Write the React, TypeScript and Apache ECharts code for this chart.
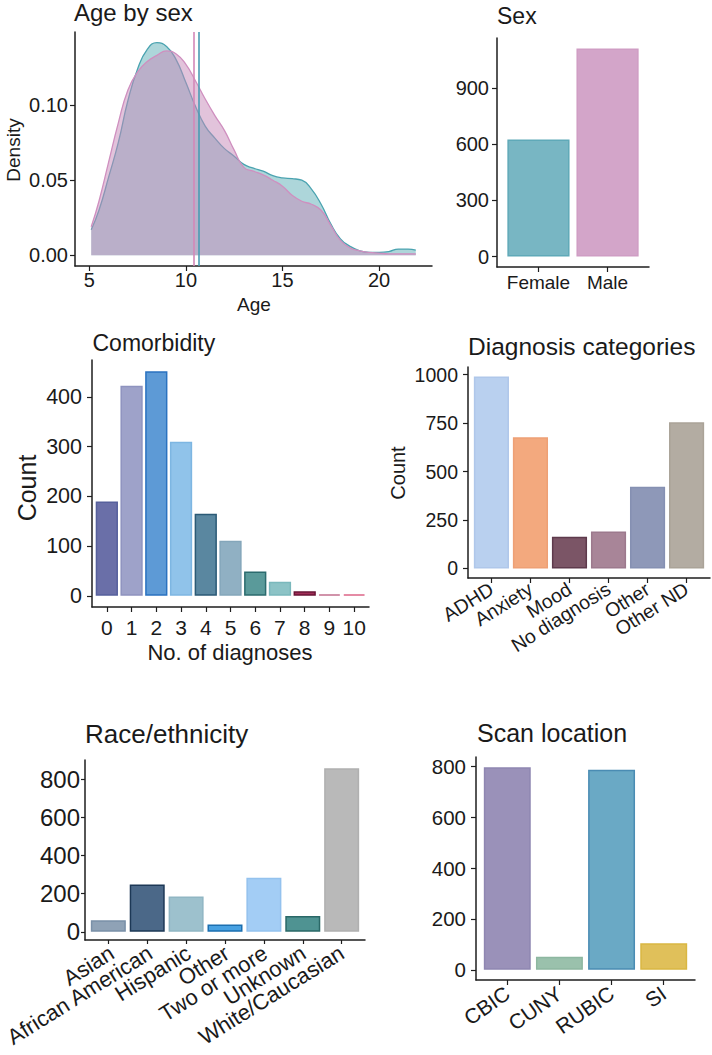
import React, { useEffect, useRef } from "react";
import * as echarts from "echarts";

const FONT = '"Liberation Sans", Arial, Helvetica, sans-serif';
const INK = "#1a1a1a";
const AXIS = "#1e1e1e";

// ---- Age by sex (density) ----
const ages = [5.1, 5.5, 6, 6.5, 7, 7.5, 8, 8.5, 9, 9.5, 10, 10.5, 11, 11.5, 12, 12.5, 13, 13.5, 14, 14.5, 15, 15.5, 16, 16.5, 17, 17.5, 18, 18.5, 19, 19.5, 20, 20.5, 21, 21.5, 21.9];
const femaleDensity = [0.017, 0.030, 0.052, 0.075, 0.103, 0.124, 0.137, 0.1415, 0.139, 0.130, 0.115, 0.099, 0.086, 0.078, 0.071, 0.066, 0.0605, 0.058, 0.056, 0.053, 0.0515, 0.051, 0.050, 0.044, 0.034, 0.021, 0.011, 0.006, 0.003, 0.002, 0.002, 0.0025, 0.0042, 0.0042, 0.0035];
const maleDensity = [0.019, 0.036, 0.062, 0.088, 0.110, 0.122, 0.129, 0.133, 0.136, 0.134, 0.127, 0.116, 0.104, 0.093, 0.083, 0.070, 0.0585, 0.056, 0.0535, 0.050, 0.046, 0.040, 0.036, 0.034, 0.030, 0.020, 0.010, 0.005, 0.003, 0.002, 0.0015, 0.001, 0.001, 0.001, 0.001];
const femaleMeanAge = 10.66;
const maleMeanAge = 10.42;
const ageTicks = [5, 10, 15, 20];
const densityTicks = [0, 0.05, 0.1];

// ---- Sex ----
const sexCategories = ["Female", "Male"];
const sexCounts = [626, 1112];
const sexTicks = [0, 300, 600, 900];
const sexFill = ["#78b6c3", "#d3a5c9"];
const sexBorder = ["#5fa9b8", "#cf9dc4"];

// ---- Comorbidity ----
const comorbidityCategories = ["0", "1", "2", "3", "4", "5", "6", "7", "8", "9", "10"];
const comorbidityCounts = [190, 423, 452, 310, 165, 111, 49, 28, 9, 3, 3];
const comorbidityTicks = [0, 100, 200, 300, 400];
const comorbidityFill = ["#6a6fa8", "#9ea2c9", "#5d9ad6", "#90c3ea", "#5a87a0", "#90b0c3", "#5a9a9a", "#8cc3c6", "#a02d57", "#c77c98", "#e0708e"];
const comorbidityBorder = ["#56609c", "#8e93bf", "#2a72c0", "#7db6e2", "#2b5a76", "#84a6ba", "#2b6b6e", "#7ab8bc", "#6a1436", "#c2708e", "#dd6688"];

// ---- Diagnosis categories ----
const diagnosisCategories = ["ADHD", "Anxiety", "Mood", "No diagnosis", "Other", "Other ND"];
const diagnosisCounts = [990, 677, 164, 190, 422, 754];
const diagnosisTicks = [0, 250, 500, 750, 1000];
const diagnosisFill = ["#b9d0ef", "#f3a97e", "#7b5566", "#a88598", "#8e98b8", "#b3aca2"];
const diagnosisBorder = ["#afc7ea", "#eea075", "#5e3a4c", "#9c798d", "#8590b2", "#aaa398"];

// ---- Race/ethnicity ----
const raceCategories = ["Asian", "African American", "Hispanic", "Other", "Two or more", "Unknown", "White/Caucasian"];
const raceCounts = [61, 248, 185, 38, 283, 83, 857];
const raceTicks = [0, 200, 400, 600, 800];
const raceFill = ["#8fa2b6", "#4b6888", "#9dc1cd", "#47a1e2", "#a3cdf5", "#4f9392", "#b9b9b9"];
const raceBorder = ["#7a90a8", "#1d3856", "#90b6c3", "#1b6fb0", "#94c2ee", "#2a6867", "#b0b0b0"];

// ---- Scan location ----
const scanCategories = ["CBIC", "CUNY", "RUBIC", "SI"];
const scanCounts = [797, 52, 787, 105];
const scanTicks = [0, 200, 400, 600, 800];
const scanFill = ["#9a91b9", "#9ac1ac", "#6aa9c5", "#e0c05a"];
const scanBorder = ["#8f86b1", "#8db7a0", "#4a8cb3", "#d9b743"];

type Box = { left: number; top: number; width: number; height: number };

function axisLine() {
  return { show: true, onZero: false, lineStyle: { color: AXIS, width: 1.5 } };
}

function buildOption() {
  const grid: any[] = [];
  const xAxis: any[] = [];
  const yAxis: any[] = [];
  const series: any[] = [];
  const graphic: any[] = [];
  const labelGrids: { box: Box; axis: any }[] = [];

  const yAxisCfg = (i: number, min: number, max: number, ticks: number[], fs: number, margin: number, tickLen: number, fmt?: (v: number) => string) => ({
    type: "value",
    gridIndex: i,
    min,
    max,
    axisLine: axisLine(),
    axisTick: { show: true, customValues: ticks, length: tickLen, lineStyle: { color: AXIS, width: 1.2 } },
    axisLabel: {
      show: true,
      customValues: ticks,
      formatter: fmt || ((v: number) => String(Math.round(v))),
      color: INK,
      fontSize: fs,
      fontFamily: FONT,
      margin,
      showMinLabel: true,
      showMaxLabel: true,
    },
    splitLine: { show: false },
  });

  // Density panel
  {
    const box: Box = { left: 75, top: 32, width: 357, height: 234 };
    grid.push({ ...box });
    const xMinD = Math.min(...ages);
    const xMaxD = Math.max(...ages);
    const xr = xMaxD - xMinD;
    const dMax = Math.max(...femaleDensity, ...maleDensity);
    xAxis.push({
      type: "value",
      gridIndex: 0,
      min: xMinD - 0.05 * xr,
      max: xMaxD + 0.05 * xr,
      axisLine: axisLine(),
      axisTick: { show: true, customValues: ageTicks, length: 5, lineStyle: { color: AXIS, width: 1.2 } },
      axisLabel: { show: true, customValues: ageTicks, color: INK, fontSize: 20, fontFamily: FONT, margin: 4, showMinLabel: true, showMaxLabel: true },
      splitLine: { show: false },
    });
    yAxis.push(yAxisCfg(0, -0.05 * dMax, 1.05 * dMax, densityTicks, 20, 7, 5, (v: number) => v.toFixed(2)));
    const mk = (val: number, color: string) => ({
      silent: true,
      symbol: ["none", "none"],
      label: { show: false },
      lineStyle: { color, type: "solid", width: 1.6 },
      data: [{ xAxis: val }],
      animation: false,
    });
    series.push({
      type: "line",
      name: "Female",
      xAxisIndex: 0,
      yAxisIndex: 0,
      data: ages.map((a, k) => [a, femaleDensity[k]]),
      smooth: 0.5,
      symbol: "none",
      lineStyle: { color: "#4aa3b0", width: 1.3 },
      areaStyle: { color: "rgba(95,174,182,0.73)", origin: "auto" },
      markLine: mk(femaleMeanAge, "#4b9bb3"),
      z: 2,
    });
    series.push({
      type: "line",
      name: "Male",
      xAxisIndex: 0,
      yAxisIndex: 0,
      data: ages.map((a, k) => [a, maleDensity[k]]),
      smooth: 0.5,
      symbol: "none",
      lineStyle: { color: "#cf8fbf", width: 1.3 },
      areaStyle: { color: "rgba(199,138,185,0.73)", origin: "auto" },
      markLine: mk(maleMeanAge, "#d488b8"),
      z: 3,
    });
  }

  const barPanel = (
    box: Box,
    cats: string[],
    values: number[],
    fills: string[],
    borders: string[],
    ticks: number[],
    o: { yfs: number; xfs: number; ymargin: number; xmargin: number; rotate: number; tickLen: number }
  ) => {
    const i = grid.length;
    grid.push({ ...box });
    const n = cats.length;
    const xMin = 0.4;
    const xMax = n + 0.6;
    const band = box.width / (xMax - xMin);
    const vMax = Math.max(...values);
    const pos = cats.map((_, k) => k + 1);
    xAxis.push({
      type: "value",
      gridIndex: i,
      min: xMin,
      max: xMax,
      axisLine: axisLine(),
      axisTick: { show: true, customValues: pos, length: o.tickLen, lineStyle: { color: AXIS, width: 1.2 } },
      axisLabel: { show: false },
      splitLine: { show: false },
    });
    yAxis.push(yAxisCfg(i, -0.05 * vMax, 1.05 * vMax, ticks, o.yfs, o.ymargin, o.tickLen));
    series.push({
      type: "bar",
      xAxisIndex: i,
      yAxisIndex: i,
      barWidth: band * 0.9,
      data: values.map((v, k) => ({
        value: [k + 1, v],
        itemStyle: { color: fills[k], borderColor: borders[k], borderWidth: 1.5 },
      })),
    });
    // companion category axis (same band centres) that carries every label
    labelGrids.push({
      box: { left: box.left + (0.5 - xMin) * band, top: box.top, width: n * band, height: box.height },
      axis: {
        type: "category",
        data: cats,
        boundaryGap: true,
        axisLine: { show: false },
        axisTick: { show: false },
        splitLine: { show: false },
        axisLabel: {
          show: true,
          interval: 0,
          color: INK,
          fontSize: o.xfs,
          fontFamily: FONT,
          margin: o.xmargin,
          rotate: o.rotate,
        },
      },
    });
  };

  barPanel({ left: 497, top: 38, width: 152, height: 229 }, sexCategories, sexCounts, sexFill, sexBorder, sexTicks, { yfs: 20, xfs: 19, ymargin: 8, xmargin: 6, rotate: 0, tickLen: 5 });
  barPanel({ left: 92, top: 360, width: 277, height: 247 }, comorbidityCategories, comorbidityCounts, comorbidityFill, comorbidityBorder, comorbidityTicks, { yfs: 21.5, xfs: 21, ymargin: 10, xmargin: 10, rotate: 0, tickLen: 5 });
  barPanel({ left: 468, top: 367, width: 242, height: 211 }, diagnosisCategories, diagnosisCounts, diagnosisFill, diagnosisBorder, diagnosisTicks, { yfs: 19.5, xfs: 19.5, ymargin: 10, xmargin: 9, rotate: 32, tickLen: 5 });
  barPanel({ left: 85, top: 760, width: 280, height: 180 }, raceCategories, raceCounts, raceFill, raceBorder, raceTicks, { yfs: 24, xfs: 22, ymargin: 5, xmargin: 11, rotate: 32, tickLen: 4 });
  barPanel({ left: 476, top: 757, width: 219, height: 223 }, scanCategories, scanCounts, scanFill, scanBorder, scanTicks, { yfs: 20.5, xfs: 21, ymargin: 10, xmargin: 11, rotate: 35, tickLen: 5 });

  labelGrids.forEach((lg) => {
    const gi = grid.length;
    grid.push({ ...lg.box });
    xAxis.push({ ...lg.axis, gridIndex: gi });
    yAxis.push({ type: "value", gridIndex: gi, show: false, min: 0, max: 1 });
  });

  const txt = (text: string, x: number, y: number, size: number, align = "left", rot = 0) => ({
    type: "text",
    x,
    y,
    rotation: rot,
    silent: true,
    z: 100,
    style: {
      text,
      fill: INK,
      fontSize: size,
      fontFamily: FONT,
      align,
      textAlign: align,
      verticalAlign: "middle",
      textVerticalAlign: "middle",
    },
  });

  graphic.push(txt("Age by sex", 74, 12, 24));
  graphic.push(txt("Sex", 497, 16, 23));
  graphic.push(txt("Comorbidity", 92.5, 343, 23));
  graphic.push(txt("Diagnosis categories", 468, 346, 24.5));
  graphic.push(txt("Race/ethnicity", 85, 734, 26));
  graphic.push(txt("Scan location", 477, 733, 25));
  graphic.push(txt("Density", 13.5, 150, 19, "center", Math.PI / 2));
  graphic.push(txt("Age", 254, 304, 19, "center"));
  graphic.push(txt("Count", 27, 488, 25, "center", Math.PI / 2));
  graphic.push(txt("No. of diagnoses", 230, 652, 22, "center"));
  graphic.push(txt("Count", 397.5, 473, 20, "center", Math.PI / 2));

  return {
    animation: false,
    backgroundColor: "#ffffff",
    textStyle: { fontFamily: FONT },
    grid,
    xAxis,
    yAxis,
    series,
    graphic: { elements: graphic },
  };
}

export default function App() {
  const ref = useRef<HTMLDivElement>(null);
  useEffect(() => {
    if (!ref.current) return;
    const chart = echarts.init(ref.current, undefined, { renderer: "svg" });
    chart.setOption(buildOption() as any);
    return () => chart.dispose();
  }, []);
  return (
    <div
      ref={ref}
      style={{ position: "absolute", left: 0, top: 0, width: 712, height: 1055, background: "#fff" }}
    />
  );
}
